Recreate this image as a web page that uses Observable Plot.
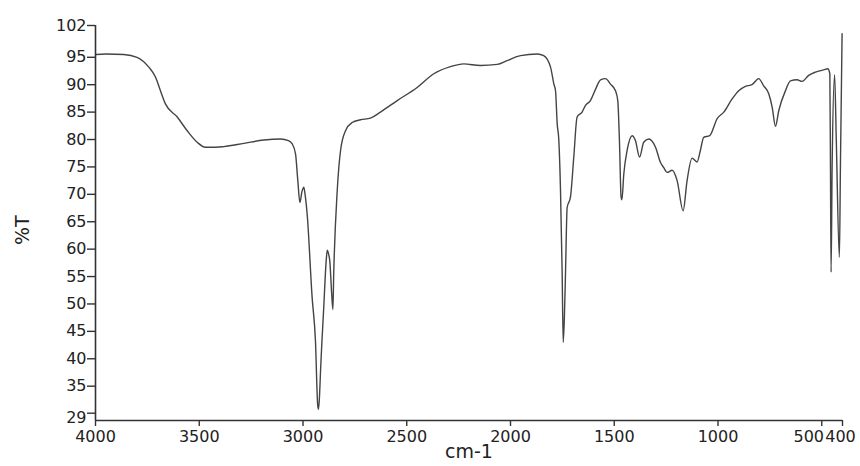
<!DOCTYPE html>
<html>
<head>
<meta charset="utf-8">
<script src="https://cdn.jsdelivr.net/npm/d3@7"></script>
<script src="https://cdn.jsdelivr.net/npm/@observablehq/plot@0.6"></script>
<style>
  html, body { margin: 0; padding: 0; background: #fff; }
  #chart { width: 860px; height: 466px; }
</style>
</head>
<body>
<div id="chart"></div>
<script>
// IR spectrum: wavenumber (cm-1) vs transmittance (%T)
const wavenumber = [
  3998, 3950, 3864, 3800, 3743, 3711, 3687, 3663, 3606, 3558, 3510, 3470, 3420, 3382, 3285, 3189,
  3108, 3070, 3052, 3036, 3025, 3015, 3005, 2996, 2990, 2980, 2956, 2940, 2929, 2925, 2920, 2916,
  2900, 2888, 2883, 2876, 2871, 2862, 2856, 2852, 2835, 2819, 2795, 2763, 2723, 2675, 2627, 2546,
  2450, 2370, 2289, 2225, 2145, 2064, 2016, 1952, 1871, 1840, 1807, 1791, 1783, 1775, 1767, 1759,
  1751, 1746, 1740, 1735, 1727, 1711, 1695, 1679, 1655, 1639, 1615, 1590, 1566, 1542, 1518, 1494,
  1483, 1475, 1467, 1463, 1454, 1438, 1414, 1398, 1378, 1358, 1334, 1301, 1277, 1262, 1245, 1221,
  1197, 1168, 1149, 1125, 1101, 1085, 1069, 1040, 1004, 972, 932, 900, 868, 836, 804, 780,
  755, 739, 723, 707, 675, 651, 619, 595, 563, 530, 490, 471, 461, 458, 455, 450,
  438, 430, 415, 410, 402
];
const transmittance = [
  95.5, 95.6, 95.5, 95.0, 93.2, 91.4, 88.9, 86.5, 84.1, 81.6, 79.5, 78.6, 78.6, 78.7, 79.3, 79.9,
  80.1, 79.8, 79.2, 77.4, 72.5, 68.5, 70.5, 71.3, 70.0, 66.4, 51.2, 43.3, 31.5, 30.8, 33.5, 37.3,
  49.4, 58.0, 59.8, 59.0, 57.9, 52.0, 49.0, 55.5, 70.7, 78.0, 81.6, 83.1, 83.6, 83.9, 85.0, 87.1,
  89.5, 92.0, 93.3, 93.8, 93.5, 93.7, 94.4, 95.3, 95.6, 95.3, 93.2, 90.1, 88.9, 82.9, 79.8, 70.7,
  55.5, 43.0, 48.0, 55.5, 67.6, 69.5, 76.8, 84.1, 85.0, 86.2, 87.1, 89.2, 90.9, 91.1, 90.1, 88.9,
  87.1, 79.8, 69.5, 69.0, 73.7, 78.0, 80.7, 79.8, 76.8, 79.5, 80.1, 78.6, 75.8, 74.9, 74.0, 74.4,
  72.5, 67.0, 72.5, 76.6, 75.9, 78.0, 80.4, 80.7, 83.8, 85.0, 87.4, 88.9, 89.7, 90.0, 91.1, 89.8,
  88.3, 85.9, 82.4, 85.3, 88.9, 90.7, 90.9, 90.6, 91.7, 92.3, 92.7, 92.9, 92.0, 75.0, 55.8, 75.0,
  91.8, 80.0, 58.5, 75.0, 99.3
];

// Axis ticks as printed on the original
const xTickValues = [4000, 3500, 3000, 2500, 2000, 1500, 1000, 500, 400];
const xTickLabels = ["4000", "3500", "3000", "2500", "2000", "1500", "1000", "500", "400"];
const yTickValues = [30.07, 35, 40, 45, 50, 55, 60, 65, 70, 75, 80, 85, 90, 95, 100.8];
const yTickLabels = ["29", "35", "40", "45", "50", "55", "60", "65", "70", "75", "80", "85", "90", "95", "102"];
const xDomain = [4000, 400];
const yDomain = [28.74, 100.8];

const data = wavenumber.map((w, i) => ({w, t: transmittance[i]}));
const xLabel = new Map(xTickValues.map((v, i) => [v, xTickLabels[i]]));
const yLabel = new Map(yTickValues.map((v, i) => [v, yTickLabels[i]]));

const xCentered = xTickValues.filter(v => v !== 500 && v !== 400);
const yCentered = yTickValues.filter(v => v !== 30.07);

const axisColor = "#333";

const chart = Plot.plot({
  width: 860,
  height: 466,
  marginLeft: 95,
  marginRight: 18,
  marginTop: 25,
  marginBottom: 46,
  x: {domain: xDomain, axis: null},
  y: {domain: yDomain, axis: null},
  style: {fontFamily: "'DejaVu Sans', sans-serif", fontSize: "16px", color: "#222", background: "#fff", overflow: "visible"},
  marks: [
    // spectrum
    Plot.line(data, {x: "w", y: "t", stroke: "#444", strokeWidth: 1.4, strokeLinejoin: "round", curve: "monotone-x"}),
    // axis lines
    Plot.ruleX([xDomain[0]], {stroke: axisColor, strokeWidth: 1.6}),
    Plot.ruleY([yDomain[0]], {stroke: axisColor, strokeWidth: 1.6}),
    // x ticks
    Plot.axisX(xTickValues, {tickSize: 6, tickFormat: () => "", stroke: axisColor, strokeWidth: 1.4, label: null}),
    Plot.axisX(xCentered, {tickSize: 0, tickPadding: 10, tickFormat: d => xLabel.get(d), label: null, fill: "#222"}),
    Plot.axisX([500], {tickSize: 0, tickPadding: 10, dx: -13, tickFormat: d => xLabel.get(d), label: null, fill: "#222"}),
    Plot.axisX([400], {tickSize: 0, tickPadding: 10, dx: -2, tickFormat: d => xLabel.get(d), label: null, fill: "#222"}),
    // y ticks
    Plot.axisY(yTickValues, {tickSize: 8, tickFormat: () => "", stroke: axisColor, strokeWidth: 1.4, label: null}),
    Plot.axisY(yCentered, {tickSize: 0, tickPadding: 9, tickFormat: d => yLabel.get(d), label: null, fill: "#222"}),
    Plot.axisY([30.07], {tickSize: 0, tickPadding: 9, dy: 5, tickFormat: d => yLabel.get(d), label: null, fill: "#222"}),
    // axis titles
    Plot.text(["cm-1"], {frameAnchor: "bottom", dy: 37, fontSize: 19, fill: "#222"}),
    Plot.text(["%T"], {frameAnchor: "left", rotate: -90, dx: -73, dy: 22, fontSize: 19, fill: "#222"})
  ]
});
document.getElementById("chart").appendChild(chart);
</script>
</body>
</html>
